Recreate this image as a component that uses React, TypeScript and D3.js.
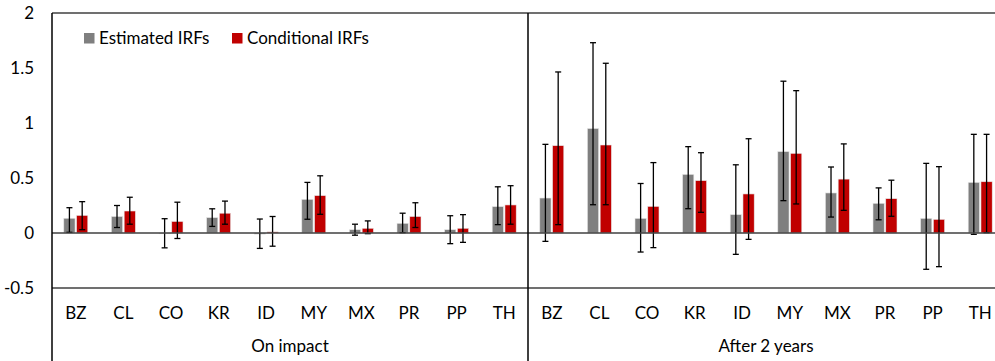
import * as d3 from 'd3'

// categories and panels
const countries = ['BZ', 'CL', 'CO', 'KR', 'ID', 'MY', 'MX', 'PR', 'PP', 'TH']
const panels = ['On impact', 'After 2 years']
const seriesNames = ['Estimated IRFs', 'Conditional IRFs']
const yTicks = [-0.5, 0, 0.5, 1, 1.5, 2]

// On impact
const impactEst = [0.134, 0.15, -0.005, 0.14, -0.01, 0.306, 0.03, 0.088, 0.03, 0.24]
const impactEstLo = [0.006, 0.05, -0.135, 0.06, -0.14, 0.125, -0.02, 0.003, -0.097, 0.076]
const impactEstHi = [0.23, 0.25, 0.13, 0.22, 0.127, 0.46, 0.08, 0.18, 0.157, 0.42]
const impactCond = [0.16, 0.2, 0.105, 0.18, 0.01, 0.34, 0.043, 0.15, 0.043, 0.255]
const impactCondLo = [0.03, 0.08, -0.05, 0.08, -0.12, 0.17, -0.006, 0.05, -0.085, 0.08]
const impactCondHi = [0.285, 0.325, 0.28, 0.29, 0.15, 0.52, 0.11, 0.275, 0.167, 0.43]

// After 2 years
const twoYrEst = [0.318, 0.95, 0.133, 0.533, 0.167, 0.74, 0.364, 0.27, 0.133, 0.46]
const twoYrEstLo = [-0.076, 0.257, -0.173, 0.221, -0.194, 0.294, 0.145, 0.12, -0.33, -0.012]
const twoYrEstHi = [0.806, 1.73, 0.45, 0.785, 0.62, 1.38, 0.6, 0.41, 0.633, 0.897]
const twoYrCond = [0.794, 0.8, 0.242, 0.476, 0.355, 0.724, 0.49, 0.312, 0.124, 0.466]
const twoYrCondLo = [0.076, 0.257, -0.133, 0.188, -0.058, 0.264, 0.206, 0.152, -0.306, 0.003]
const twoYrCondHi = [1.464, 1.543, 0.64, 0.73, 0.857, 1.294, 0.81, 0.48, 0.603, 0.897]

const COLORS = ['#7f7f7f', '#c00000']
const FONT = 'Lato, "Open Sans", sans-serif'
const FS = 17

const W = 995
const H = 361
const LEFT = 52
const TOP = 13
const PANEL_W = 476

type Row = { c: string; v: number; lo: number; hi: number }

export default function App() {
  const y = d3.scaleLinear().domain([-0.5, 2]).range([288, TOP])

  const xPanel = d3.scaleBand<string>().domain(panels).range([LEFT, LEFT + 2 * PANEL_W])
  const x = d3.scaleBand<string>().domain(countries).range([0, PANEL_W])
  const xSeries = d3.scaleBand<string>().domain(seriesNames).range([-12, 12]).paddingInner(0.12)

  const build = (v: number[], lo: number[], hi: number[]): Row[] =>
    countries.map((c, i) => ({ c, v: v[i], lo: lo[i], hi: hi[i] }))

  const data: Row[][][] = [
    [build(impactEst, impactEstLo, impactEstHi), build(impactCond, impactCondLo, impactCondHi)],
    [build(twoYrEst, twoYrEstLo, twoYrEstHi), build(twoYrCond, twoYrCondLo, twoYrCondHi)],
  ]

  const bw = xSeries.bandwidth()
  const cap = 3

  return (
    <svg
      width={W}
      height={H}
      style={{ position: 'fixed', left: 0, top: 0, background: '#fff', fontFamily: FONT }}
    >
      {/* y tick labels */}
      {yTicks.map(t => (
        <text key={t} x={34} y={y(t)} dy="0.36em" textAnchor="end" fontSize={FS} fill="#000">
          {t}
        </text>
      ))}

      {/* horizontal frame lines */}
      <line x1={LEFT} x2={W} y1={y(2)} y2={y(2)} stroke="#404040" strokeWidth={1.5} />
      <line x1={LEFT} x2={W} y1={y(-0.5)} y2={y(-0.5)} stroke="#404040" strokeWidth={1.5} />

      {panels.map((p, pi) => {
        const x0 = xPanel(p) as number
        return (
          <g key={p} transform={`translate(${x0},0)`}>
            {data[pi].map((rows, si) => (
              <g key={si}>
                {rows.map(d => {
                  const cx = (x(d.c) as number) + x.bandwidth() / 2 + (xSeries(seriesNames[si]) as number)
                  const top = y(Math.max(0, d.v))
                  const h = Math.abs(y(d.v) - y(0))
                  const mx = cx + bw / 2
                  return (
                    <g key={d.c}>
                      <rect x={cx} y={top} width={bw} height={Math.max(h, 0.8)} fill={COLORS[si]}
                        stroke="#e6e6e6" strokeWidth={0.6} />
                      <line x1={mx} x2={mx} y1={y(d.lo)} y2={y(d.hi)} stroke="#000" strokeWidth={1.3} />
                      <line x1={mx - cap} x2={mx + cap} y1={y(d.lo)} y2={y(d.lo)} stroke="#000" strokeWidth={1.3} />
                      <line x1={mx - cap} x2={mx + cap} y1={y(d.hi)} y2={y(d.hi)} stroke="#000" strokeWidth={1.3} />
                    </g>
                  )
                })}
              </g>
            ))}
            {/* category labels */}
            {countries.map(c => (
              <text key={c} x={(x(c) as number) + x.bandwidth() / 2} y={319} textAnchor="middle"
                fontSize={FS} fill="#000">
                {c}
              </text>
            ))}
            <text x={PANEL_W / 2} y={352} textAnchor="middle" fontSize={FS} fill="#000">{p}</text>
          </g>
        )
      })}

      {/* zero line */}
      <line x1={LEFT} x2={W} y1={y(0)} y2={y(0)} stroke="#404040" strokeWidth={1.3} />

      {/* vertical lines */}
      <line x1={LEFT} x2={LEFT} y1={TOP} y2={H} stroke="#000" strokeWidth={1.5} />
      <line x1={LEFT + PANEL_W} x2={LEFT + PANEL_W} y1={TOP} y2={H} stroke="#000" strokeWidth={1.5} />

      {/* legend */}
      {seriesNames.map((s, i) => {
        const lx = [84, 232][i]
        return (
          <g key={s}>
            <rect x={lx} y={33} width={10.5} height={10.5} fill={COLORS[i]} />
            <text x={lx + 15} y={44} fontSize={FS} fill="#000">{s}</text>
          </g>
        )
      })}
    </svg>
  )
}
